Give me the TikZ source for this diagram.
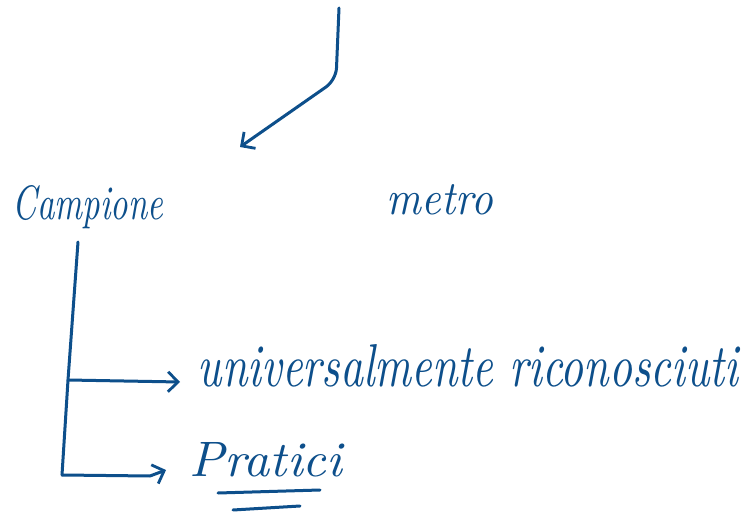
\documentclass[tikz,border=0pt]{standalone}
\usepackage{graphicx}
\usetikzlibrary{arrows.meta}
\definecolor{ink}{HTML}{0D4F8B}
\tikzset{
  pen/.style={draw=ink, line width=3pt, line cap=round, line join=round},
  arr/.style={pen, -{Straight Barb[length=10pt,width=20pt,line width=2.8pt]}},
  hand/.style={text=ink, inner sep=0pt, anchor=center, font=\itshape},
}
\begin{document}
\begin{tikzpicture}[x=1pt,y=-1pt]
\useasboundingbox[fill=white] (0,0) rectangle (745,516);
% texts
\node[hand] (camp) at (88,207) {\resizebox{150pt}{34pt}{Campione}};
\node[hand] (metro) at (440,200) {\resizebox{106pt}{30pt}{metro}};
\node[hand] (univ) at (468,366) {\resizebox{540pt}{42pt}{universalmente riconosciuti}};
\node[hand] (prat) at (266,460) {\resizebox{152pt}{34pt}{Pratici}};
% coordinates
\coordinate (top) at (339,8);
\coordinate (bend) at (336,80);
\coordinate (tip) at (240,147);
\coordinate (v0) at (78,242);
\coordinate (b1) at (68,380);
\coordinate (b2) at (62,475);
\coordinate (a1) at (180,382);
\coordinate (a2) at (166,470);
% top arrow
\draw[arr, rounded corners=12pt] (top) -- (bend) -- (tip);
% tree
\draw[pen] (v0) -- (b1) -- (b2);
\draw[arr] (b1) -- (a1);
\draw[arr] (b2) -- (150,476) -- (a2);
% underlines of Pratici
\coordinate (u1a) at (218,493);
\coordinate (u1b) at (320,490);
\coordinate (u2a) at (233,510);
\coordinate (u2b) at (300,506);
\draw[pen] (u1a) -- (u1b);
\draw[pen] (u2a) -- (u2b);
\end{tikzpicture}
\end{document}
